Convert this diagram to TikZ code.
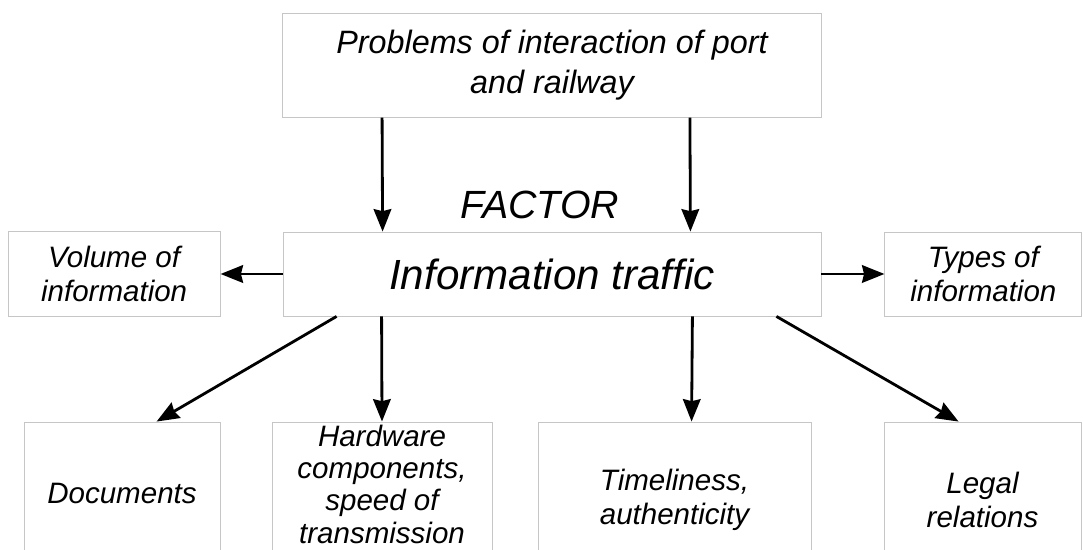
\documentclass[tikz,border=0pt]{standalone}
\usepackage{fontspec}
\setmainfont{Liberation Sans}
\usepackage{tikz}
\usetikzlibrary{arrows.meta,positioning}

\begin{document}
\begin{tikzpicture}[
    box/.style={draw=gray!45, line width=0.6pt, rectangle, align=center, inner sep=0pt,
        font=\itshape\fontsize{21}{24.5}\selectfont},
    arr/.style={-{Stealth[length=5.6mm, width=4.4mm, inset=0.5mm]}, line width=2pt},
    node distance=0.3cm
]
    \path[use as bounding box, clip] (0,0) rectangle (27.075,13.75);

    % Central factor
    \node[box, minimum width=13.45cm, minimum height=2.1cm,
          font=\itshape\fontsize{30}{36}\selectfont] (info) at (13.8,6.9) {Information traffic};
    \node[font=\itshape\fontsize{28}{34}\selectfont] (factor) at (13.5,8.625) {FACTOR};

    % Header
    \node[box, minimum width=13.475cm, minimum height=2.6cm, above=2.85cm of info,
          font=\itshape\fontsize{23}{28}\selectfont] (problems) {
        Problems of interaction of port\\
        and railway
    };

    % Side boxes
    \node[box, minimum width=5.3cm, minimum height=2.125cm, left=1.55cm of info] (volume) {
        Volume of\\
        information
    };
    \node[box, minimum width=4.925cm, minimum height=2.1cm, right=1.575cm of info] (types) {
        Types of\\
        information
    };

    % Bottom row (cut by the lower edge)
    \node[box, minimum width=4.9cm, minimum height=3.55cm] (docs) at (3.05,1.425) {Documents};
    \node[box, minimum width=5.5cm, minimum height=3.5cm, text depth=0.4cm,
          font=\itshape\fontsize{21}{23}\selectfont] (hardware) at (9.55,1.45) {
        Hardware\\
        components,\\
        speed of\\
        transmission
    };
    \node[box, minimum width=6.825cm, minimum height=3.9cm] (timeliness) at (16.8625,1.25) {
        Timeliness,\\
        authenticity
    };
    \node[box, minimum width=4.925cm, minimum height=3.9cm] (legal) at (24.5625,1.25) {
        Legal\\
        relations
    };

    % Arrows
    \draw[arr] ([xshift=2.5cm]problems.south west) -- ([xshift=2.5cm]info.north west);
    \draw[arr] ([xshift=-3.3cm]problems.south east) -- ([xshift=-3.275cm]info.north east);
    \draw[arr] (info.west) -- (volume.east);
    \draw[arr] (info.east) -- (types.west);
    \draw[arr] ([xshift=1.35cm]info.south west) -- ([xshift=3.325cm]docs.north west);
    \draw[arr] ([xshift=2.475cm]info.south west) -- (hardware.north);
    \draw[arr] ([xshift=-3.225cm]info.south east) -- ([xshift=3.85cm]timeliness.north west);
    \draw[arr] ([xshift=-1.125cm]info.south east) -- ([xshift=1.875cm]legal.north west);
\end{tikzpicture}
\end{document}
